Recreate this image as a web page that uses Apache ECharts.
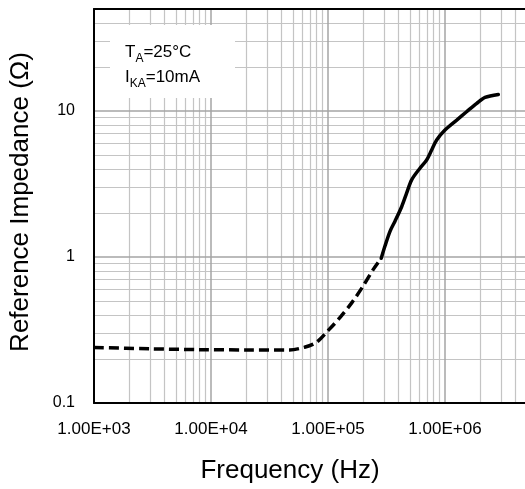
<!DOCTYPE html>
<html>
<head>
<meta charset="utf-8">
<script src="https://cdn.jsdelivr.net/npm/echarts@6/dist/echarts.min.js"></script>
<style>
html,body{margin:0;padding:0;background:#fff;}
#c{width:525px;height:489px;}
</style>
</head>
<body>
<div id="c"></div>
<script>
// Dashed (low-frequency) part of the curve
const dashFreq = [1000, 3000, 8000, 20000, 47000, 63000, 80000, 100000, 127000, 160000, 200000, 244000, 285000];
const dashZ    = [0.240, 0.235, 0.232, 0.231, 0.231, 0.241, 0.261, 0.313, 0.386, 0.487, 0.634, 0.823, 0.98];
// Solid (high-frequency) part of the curve
const solidFreq = [285000, 307000, 339000, 374000, 427000, 470000, 519000, 611000, 697000, 769000, 849000, 1000000, 1260000, 1530000, 1870000, 2200000, 2860000];
const solidZ    = [0.98, 1.19, 1.50, 1.76, 2.22, 2.74, 3.38, 4.06, 4.62, 5.41, 6.34, 7.41, 8.67, 9.89, 11.3, 12.4, 13.0];
// Gridline definition
const gridMantissas = [2, 3, 4, 5, 6, 7, 8, 9];
const xDecades = [1e3, 1e4, 1e5, 1e6];
const yDecades = [0.1, 1, 10];
const xMajor = [1e4, 1e5, 1e6];
const yMajor = [1, 10];
// the visible plot is cut off at the right edge of the picture (~4.8E+06 Hz)
const xMin = 1e3, xMax = 4.83e6, yMin = 0.1, yMax = 50;

const xMinor = [];
xDecades.forEach(d => gridMantissas.forEach(m => { if (m * d < xMax) xMinor.push(m * d); }));
const yMinor = [];
yDecades.forEach(d => gridMantissas.forEach(m => { const v = +(m * d).toPrecision(3); if (v < yMax) yMinor.push(v); }));

function isDecade(v) {
  const l = Math.log10(v);
  return Math.abs(l - Math.round(l)) < 1e-6;
}

const chart = echarts.init(document.getElementById('c'), null, {renderer: 'canvas'});
const minorStyle = {color: '#c4c4c4', width: 1.2, type: 'solid'};
const majorStyle = {color: '#a4a4a4', width: 1.5, type: 'solid'};
const borderLine = {show: true, lineStyle: {color: '#000', width: 2}};

function gridSeries(xs, ys, style, z) {
  return {
    type: 'line', data: [], silent: true, z: z,
    markLine: {
      silent: true, symbol: ['none', 'none'], animation: false,
      label: {show: false}, lineStyle: style,
      data: xs.map(v => ({xAxis: v})).concat(ys.map(v => ({yAxis: v})))
    }
  };
}

chart.setOption({
  animation: false,
  backgroundColor: '#fff',
  grid: {left: 94, top: 9, right: 0, bottom: 85, show: false},
  xAxis: [{
    type: 'log', logBase: 10, min: xMin, max: xMax, z: 10,
    name: 'Frequency (Hz)', nameLocation: 'middle', nameGap: 55,
    nameTextStyle: {fontFamily: 'Liberation Sans', fontSize: 26, color: '#000', padding: [0, 39, 0, 0]},
    axisLine: borderLine, axisTick: {show: false}, splitLine: {show: false},
    axisLabel: {
      margin: 18, fontFamily: 'Liberation Sans', fontSize: 17, color: '#000',
      showMaxLabel: false,
      formatter: v => {
        if (!isDecade(v)) return '';
        const e = Math.round(Math.log10(v));
        return '1.00E' + (e >= 0 ? '+' : '-') + String(Math.abs(e)).padStart(2, '0');
      }
    }
  }, {
    type: 'log', logBase: 10, min: xMin, max: xMax, position: 'top', z: 10,
    axisLine: borderLine, axisTick: {show: false}, splitLine: {show: false}, axisLabel: {show: false}
  }],
  yAxis: {
    type: 'log', logBase: 10, min: yMin, max: yMax, z: 10,
    name: 'Reference Impedance (Ω)', nameLocation: 'middle', nameGap: 60, nameRotate: 90,
    nameTextStyle: {fontFamily: 'Liberation Sans', fontSize: 26, color: '#000', padding: [0, 0, 0, 8]},
    axisLine: borderLine, axisTick: {show: false}, splitLine: {show: false},
    axisLabel: {
      margin: 19, fontFamily: 'Liberation Sans', fontSize: 16, color: '#000',
      formatter: v => isDecade(v) ? String(+v.toPrecision(1)) : ''
    }
  },
  graphic: [
    {type: 'rect', z: 100, silent: true, shape: {x: 110, y: 25, width: 125, height: 73}, style: {fill: '#fff'}},
    {type: 'text', z: 101, silent: true, x: 125, y: 40, style: {
      text: '{m|T}{s|A}{m|=25°C}\n{m|I}{s|KA}{m|=10mA}',
      fill: '#000', verticalAlign: 'top', align: 'left',
      rich: {
        m: {fontFamily: 'Liberation Sans', fontSize: 17, lineHeight: 25, verticalAlign: 'middle', fill: '#000'},
        s: {fontFamily: 'Liberation Sans', fontSize: 12, verticalAlign: 'bottom', fill: '#000'}
      }
    }}
  ],
  series: [
    gridSeries(xMinor, yMinor, minorStyle, 1),
    gridSeries(xMajor, yMajor, majorStyle, 2),
    {
      type: 'line', name: 'dashed', z: 60,
      data: dashFreq.map((f, i) => [f, dashZ[i]]),
      smooth: 0.3, symbol: 'none',
      lineStyle: {color: '#000', width: 3.5, type: [10, 5], cap: 'butt'}
    },
    {
      type: 'line', name: 'solid', z: 60,
      data: solidFreq.map((f, i) => [f, solidZ[i]]),
      smooth: 0.3, symbol: 'none',
      lineStyle: {color: '#000', width: 3.5, type: 'solid', cap: 'round'}
    }
  ]
});
</script>
</body>
</html>
